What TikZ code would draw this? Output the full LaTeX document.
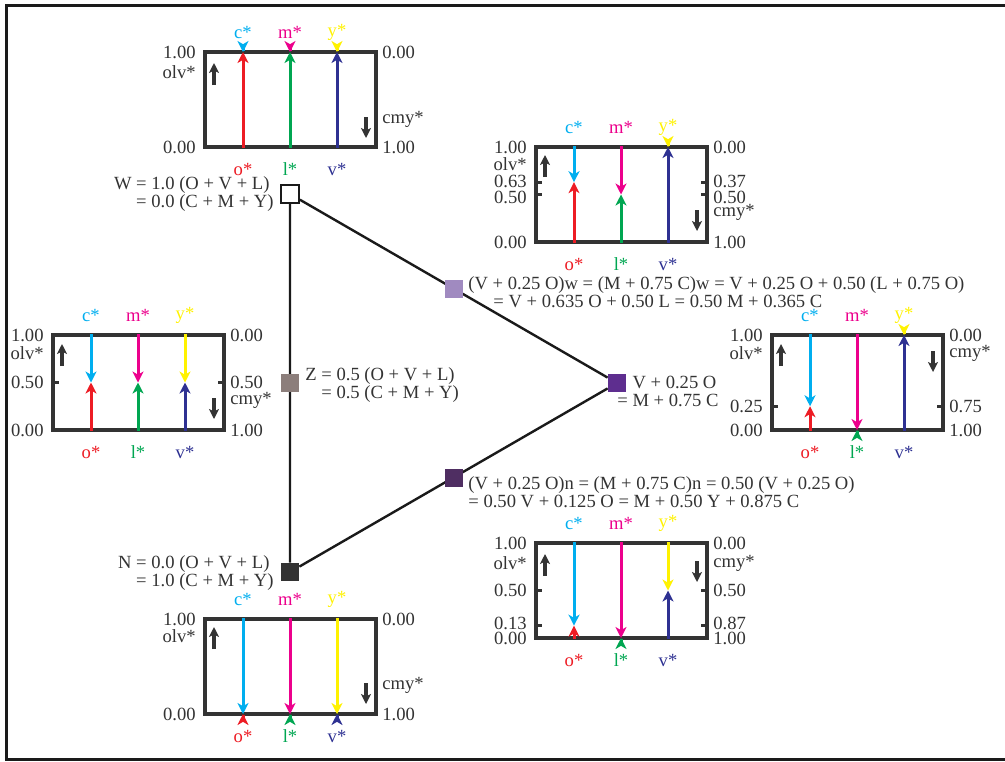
\documentclass[tikz,border=0pt]{standalone}
\usepackage{fontspec}
\setmainfont{Liberation Serif}
\usetikzlibrary{arrows.meta,backgrounds,calc}
\definecolor{Ink}{HTML}{333333}
\definecolor{Edge}{HTML}{1A1A1A}
\definecolor{OC}{HTML}{ED1C24}
\definecolor{LC}{HTML}{00A651}
\definecolor{VC}{HTML}{2E3192}
\definecolor{CC}{HTML}{00AEEF}
\definecolor{MC}{HTML}{EC008C}
\definecolor{YC}{HTML}{FFF200}
\definecolor{ZSq}{HTML}{8C7E7B}
\definecolor{NSq}{HTML}{333333}
\definecolor{VSq}{HTML}{5E2E8F}
\definecolor{WMix}{HTML}{A08AC0}
\definecolor{NMix}{HTML}{4F2E62}
\tikzset{
  lbl/.style={font=\fontsize{9.3}{9.2}\selectfont,text=Ink,inner sep=0pt},
  chip/.style={minimum size=9pt,inner sep=0pt},
  bar/.style={line width=1.5pt,-{Stealth[length=5.5pt,width=5.5pt,inset=1.6pt]}},
  dir/.style={Ink,line width=1.6pt,-{Stealth[length=5pt,width=5pt,inset=1.2pt]}},
  frame/.style={Ink,line width=1.6pt}
}
\begin{document}
\begin{tikzpicture}[x=0.5pt,y=-0.5pt]
  \useasboundingbox (0,0) rectangle (1005,761);
  \draw[Edge,line width=1.5pt] (1005,5) -- (6,5) -- (6,759) -- (1005,759);

  \node[chip,fill=white,draw=Edge,line width=0.9pt] (W) at (290,194) {};
  \node[chip,fill=NSq] (N) at (290,572) {};
  \node[chip,fill=VSq] (V) at (617,383) {};
  \node[chip,fill=ZSq] (Z) at ($(W)!0.5!(N)$) {};
  \node[chip,fill=WMix] (w) at ($(W)!0.5!(V)$) {};
  \node[chip,fill=NMix] (n) at ($(N)!0.5!(V)$) {};
  \begin{pgfonlayer}{background}
    \draw[Edge,line width=1.2pt] (W) -- (N) (W) -- (V) (N) -- (V);
  \end{pgfonlayer}

  \node[lbl,anchor=east] (Wlab) at (274,195)
    {\begin{tabular}{@{}r@{ }l@{}}W &= 1.0 (O + V + L)\\ &= 0.0 (C + M + Y)\end{tabular}};
  \node[lbl,anchor=east] (Nlab) at (274,574)
    {\begin{tabular}{@{}r@{ }l@{}}N &= 0.0 (O + V + L)\\ &= 1.0 (C + M + Y)\end{tabular}};
  \node[lbl,anchor=west] (Zlab) at (305,386)
    {\begin{tabular}{@{}r@{ }l@{}}Z &= 0.5 (O + V + L)\\ &= 0.5 (C + M + Y)\end{tabular}};
  \node[lbl,anchor=west] (Vlab) at (617,394)
    {\begin{tabular}{@{}r@{ }l@{}} &V + 0.25 O\\ = &M + 0.75 C\end{tabular}};
  \node[lbl,anchor=west,align=left] (wlab) at (468,292)
    {(V + 0.25 O)w = (M + 0.75 C)w = V + 0.25 O + 0.50 (L + 0.75 O)\\
     \hspace*{12.5pt}= V + 0.635 O + 0.50 L = 0.50 M + 0.365 C};
  \node[lbl,anchor=west,align=left] (nlab) at (468,492)
    {(V + 0.25 O)n = (M + 0.75 C)n = 0.50 (V + 0.25 O)\\
     = 0.50 V + 0.125 O = M + 0.50 Y + 0.875 C};

  \foreach \nm/\bx/\by/\ro/\rl/\rv/\olvy/\cmyy in {
    W/205/147/1/1/1/-75/-28,
    w/536/242/0.63/0.5/1/-78/-30,
    Z/53/430/0.5/0.5/0.5/-77/-30,
    V/772/430/0.25/0/1/-77/-77,
    n/536/638/0.13/0/0.5/-75/-75,
    N/205/714/0/0/0/-78/-29} {
    \begin{scope}[shift={(\bx,\by)}]
      \draw[frame] (0,0) rectangle (171,-95);
      \foreach \cx/\ucol/\dcol/\lev/\ta/\tb in {38/OC/CC/\ro/o/c,85/LC/MC/\rl/l/m,132/VC/YC/\rv/v/y} {
        \draw[bar,\ucol] (\cx,0.6) -- (\cx,{-95*\lev});
        \draw[bar,\dcol] (\cx,-95.6) -- (\cx,{-95*\lev});
        \node[lbl,text=\ucol] (\nm-\ta) at (\cx,22) {\ta*};
        \node[lbl,text=\dcol] (\nm-\tb) at (\cx,-115) {\tb*};
      }
      \node[lbl,anchor=east] (\nm-lt) at (-9,-95) {1.00};
      \node[lbl,anchor=east] (\nm-lb) at (-9,0) {0.00};
      \node[lbl,anchor=west] (\nm-rt) at (177,-95) {0.00};
      \node[lbl,anchor=west] (\nm-rb) at (177,0) {1.00};
      \node[lbl,anchor=east] (\nm-olv) at (-9,\olvy) {olv*};
      \node[lbl,anchor=west] (\nm-cmy) at (177,\cmyy) {cmy*};
      \draw[dir] (9,{\olvy+13}) -- (9,{\olvy-9});
      \draw[dir] (161,{\cmyy-2}) -- (161,{\cmyy+19});
    \end{scope}
  }

  \foreach \k/\bx/\by/\t/\ly/\ta/\tb in {
    1/536/242/0.63/-61/0.63/0.37,
    2/536/242/0.5/-45/0.50/0.50,
    3/53/430/0.5/-47.5/0.50/0.50,
    4/772/430/0.25/-24/0.25/0.75,
    5/536/638/0.5/-47.5/0.50/0.50,
    6/536/638/0.13/-15/0.13/0.87} {
    \begin{scope}[shift={(\bx,\by)}]
      \draw[frame] (0,{-95*\t}) -- (6,{-95*\t}) (165,{-95*\t}) -- (171,{-95*\t});
      \node[lbl,anchor=east] (tick\k-l) at (-9,\ly) {\ta};
      \node[lbl,anchor=west] (tick\k-r) at (177,\ly) {\tb};
    \end{scope}
  }
\end{tikzpicture}
\end{document}
